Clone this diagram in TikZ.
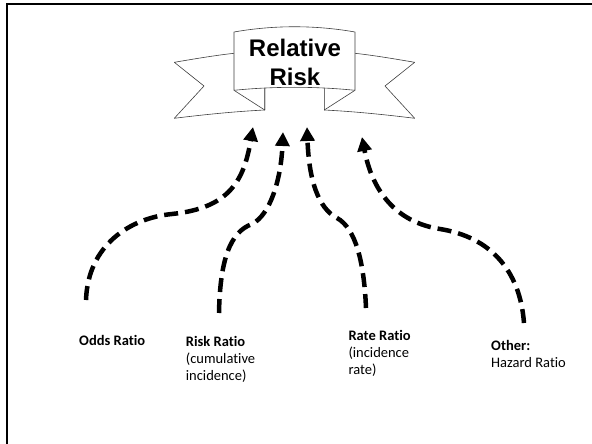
\documentclass[tikz,border=0pt]{standalone}
\usepackage{fontspec}
\setmainfont{Carlito}[Ligatures={NoCommon,NoRequired,NoContextual}]
\newfontfamily\bannerfont{Liberation Sans}
\usetikzlibrary{arrows.meta}
\begin{document}
\begin{tikzpicture}[x=1pt,y=-1pt,
  frameline/.style={line width=2.2pt,black,line join=miter},
  ribbon/.style={draw=black!75,line width=0.6pt,fill=white,line join=round},
  feed/.style={line width=4.5pt,dash pattern=on 14pt off 7pt,
    -{Triangle[length=14pt,width=14pt]}},
  lbl/.style={anchor=base west,inner sep=0pt,font=\fontsize{14.5}{17}\selectfont}
]
\useasboundingbox (0,0) rectangle (592,444);

% open frame: left and top edges only
\draw[frameline] (7.3,444) -- (7.3,4.3) -- (592,4.3);

% ribbon tails
\draw[ribbon] (234,53.3) .. controls (214,55.5) and (194,59) .. (174.3,62.3)
  -- (204,86) -- (174.3,118.3)
  .. controls (205,114.5) and (235,111.5) .. (264.7,110) -- (264.7,88) -- cycle;
\draw[ribbon] (355,53.3) .. controls (375,55.5) and (395,59) .. (414.7,62.3)
  -- (385,86) -- (414.7,118.3)
  .. controls (384,114.5) and (354,111.5) .. (324.3,110) -- (324.3,88) -- cycle;
% folds
\draw[ribbon] (234,90.3) -- (264.7,110) -- (264.7,88);
\draw[ribbon] (355,90.3) -- (324.3,110) -- (324.3,88);
% front panel
\draw[ribbon] (234,32) .. controls (274,25) and (315,25) .. (355,32)
  -- (355,90.3) .. controls (315,86.3) and (274,86.3) .. (234,90.3) -- cycle;
\node[anchor=base,inner sep=0pt,font=\bannerfont\bfseries\fontsize{24}{28.3}\selectfont]
  (rr) at (295,57) {\begin{tabular}[t]{@{}c@{}}Relative\\Risk\end{tabular}};

% measure labels
\node[lbl] (odds) at (79,345.7) {\bfseries Odds Ratio};
\node[lbl] (risk) at (185.7,346.5)
  {\begin{tabular}[t]{@{}l@{}}\bfseries Risk Ratio\\(cumulative\\incidence)\end{tabular}};
\node[lbl] (rate) at (348.3,340.7)
  {\begin{tabular}[t]{@{}l@{}}\bfseries Rate Ratio\\(incidence\\rate)\end{tabular}};
\node[lbl] (other) at (491,350)
  {\begin{tabular}[t]{@{}l@{}}\bfseries Other:\\Hazard Ratio\end{tabular}};

% arrow end points
\coordinate (s1) at (86,300);   \coordinate (t1) at (253,127);
\coordinate (s2) at (219,313);  \coordinate (t2) at (283,132);
\coordinate (s3) at (366,308);  \coordinate (t3) at (307,127);
\coordinate (s4) at (524,323);  \coordinate (t4) at (362,137);

\draw[feed] (s1) .. controls (88,245) and (130,218) .. (172,214)
  .. controls (230,208) and (244,180) .. (t1);
\draw[feed] (s2) .. controls (220,260) and (230,232) .. (252,224)
  .. controls (270,215) and (281,180) .. (t2);
\draw[feed] (s3) .. controls (364,260) and (355,228) .. (337,218)
  .. controls (318,208) and (309,180) .. (t3);
\draw[feed] (s4) .. controls (520,270) and (490,237) .. (440,229)
  .. controls (395,222) and (372,190) .. (t4);
\end{tikzpicture}
\end{document}
